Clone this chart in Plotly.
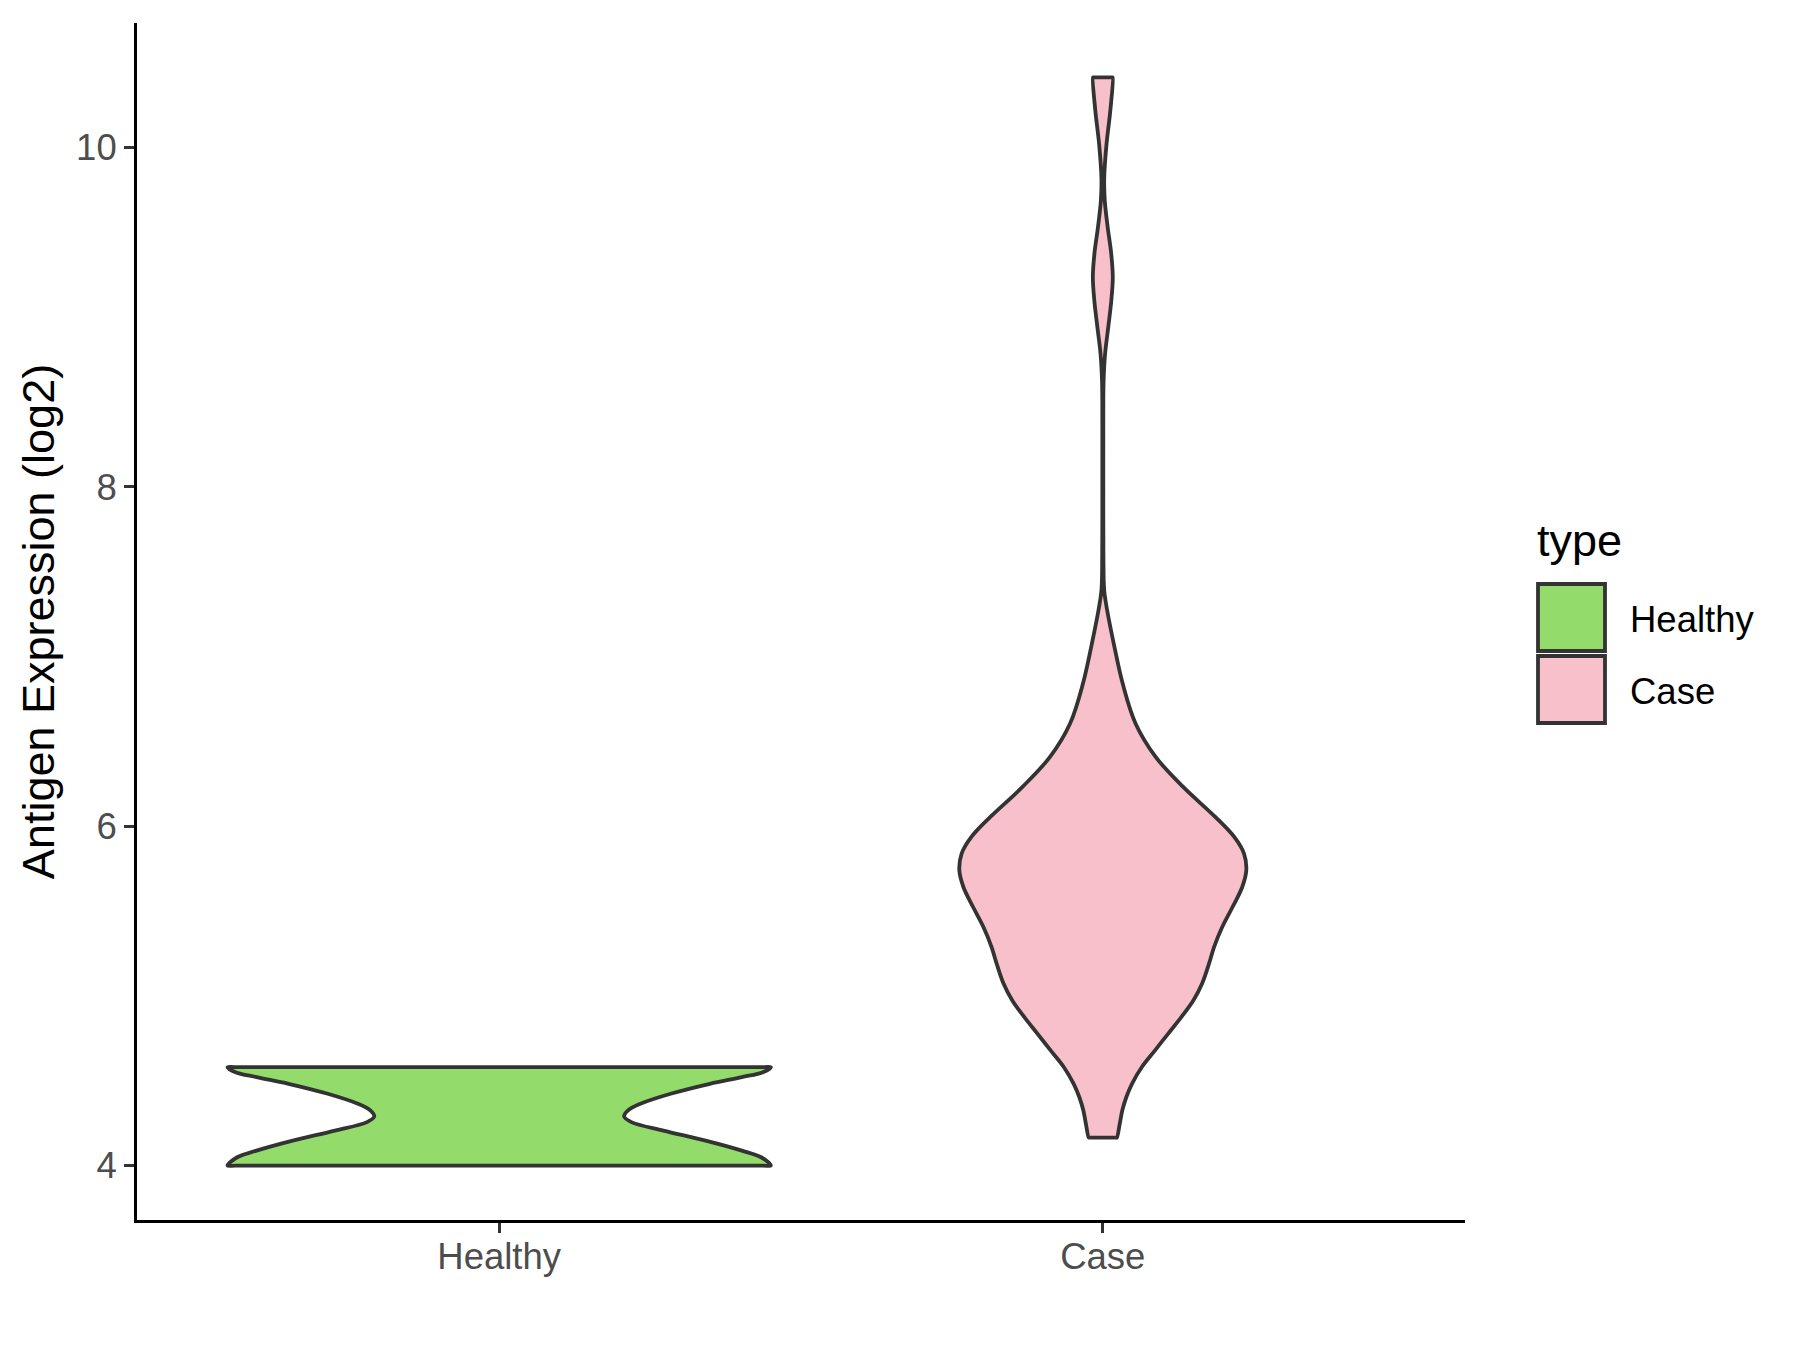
import plotly.graph_objects as go

# ---------------- data ----------------
categories = ["Healthy", "Case"]
category_positions = [1, 2]

# violin outline: y level (log2 expression) and half-width (category units)
healthy_y = [4.0, 4.049, 4.088, 4.147, 4.206, 4.256, 4.289, 4.324, 4.364,
             4.423, 4.482, 4.521, 4.5505, 4.58]
healthy_halfwidth = [0.45, 0.434, 0.402, 0.342, 0.272, 0.219, 0.207, 0.213,
                     0.234, 0.284, 0.349, 0.402, 0.437, 0.45]

case_y = [4.165, 4.247, 4.326, 4.404, 4.483, 4.581, 4.679, 4.778, 4.876,
          4.974, 5.073, 5.19, 5.289, 5.406, 5.524, 5.642, 5.741, 5.839,
          5.937, 6.055, 6.232, 6.409, 6.606, 6.841, 7.077, 7.273, 7.39,
          7.6, 8.0, 8.354, 8.624, 8.786, 8.944, 9.10, 9.238, 9.376, 9.533,
          9.69, 9.82, 10.02, 10.218, 10.414]
case_halfwidth = [0.0234, 0.0281, 0.0323, 0.0390, 0.0485, 0.0647, 0.0865,
                  0.1084, 0.1303, 0.1502, 0.1645, 0.1759, 0.1844, 0.1978,
                  0.2149, 0.2310, 0.2377, 0.2339, 0.2177, 0.1863, 0.1331,
                  0.0875, 0.0542, 0.0329, 0.0181, 0.0072, 0.0023, 0.0010,
                  0.0008, 0.0008, 0.0013, 0.0038, 0.0091, 0.0141, 0.0165,
                  0.0139, 0.0080, 0.0032, 0.0023, 0.0061, 0.0124, 0.0165]

y_tick_values = [4, 6, 8, 10]
y_tick_labels = ["4", "6", "8", "10"]
y_title = "Antigen Expression (log2)"
legend_title = "type"

# ---------------- styling ----------------
FILLS = {"Healthy": "#93DB6A", "Case": "#F7C0CB"}
OUTLINE = "#333333"
FONT = "Liberation Sans, Arial, sans-serif"
W, H = 1800, 1350
OFF = 8  # page body margin of the html page
ML, MT = 137 - OFF, 23 - OFF
PW, PH = 1328, 1197
MR, MB = W - ML - PW, H - MT - PH

profiles = {
    "Healthy": (healthy_y, healthy_halfwidth),
    "Case": (case_y, case_halfwidth),
}

EDGE_FRACS = [0.97, 0.5, 0.0, -0.5, -0.97]

fig = go.Figure()
for cat, pos in zip(categories, category_positions):
    ys, hws = profiles[cat]
    # right side going up
    xs = [pos + w for w in hws]
    yy = list(ys)
    # flat top edge (trimmed violin)
    xs += [pos + f * hws[-1] for f in EDGE_FRACS]
    yy += [ys[-1]] * len(EDGE_FRACS)
    # left side going down
    xs += [pos - w for w in reversed(hws)]
    yy += list(reversed(ys))
    # flat bottom edge
    xs += [pos - f * hws[0] for f in EDGE_FRACS]
    yy += [ys[0]] * len(EDGE_FRACS)
    xs.append(xs[0])
    yy.append(yy[0])
    fig.add_trace(go.Scatter(
        x=xs, y=yy, mode="lines", fill="toself",
        fillcolor=FILLS[cat],
        line=dict(color=OUTLINE, width=3.8, shape="spline", smoothing=1.0),
        name=cat, showlegend=False, hoverinfo="skip",
    ))

# ---------------- manual legend (ggplot-like big keys) ----------------


def px_x(x):
    return (x - OFF - ML) / PW


def px_y(y):
    return 1 - (y - OFF - MT) / PH


shapes = []
annotations = []
annotations.append(dict(
    x=px_x(1535), y=px_y(540), xref="paper", yref="paper",
    text=legend_title, showarrow=False, xanchor="left", yanchor="middle",
    font=dict(family=FONT, size=45, color="#000000"),
))
key_tops = [584, 656]
for cat, top in zip(categories, key_tops):
    shapes.append(dict(
        type="rect", xref="paper", yref="paper",
        x0=px_x(1538), x1=px_x(1605), y0=px_y(top), y1=px_y(top + 67),
        fillcolor=FILLS[cat], line=dict(color=OUTLINE, width=3.8),
    ))
    annotations.append(dict(
        x=px_x(1628), y=px_y(top + 35), xref="paper", yref="paper",
        text=cat, showarrow=False, xanchor="left", yanchor="middle",
        font=dict(family=FONT, size=36.5, color="#000000"),
    ))

fig.update_layout(
    width=W, height=H,
    margin=dict(l=ML, r=MR, t=MT, b=MB, pad=0),
    paper_bgcolor="white", plot_bgcolor="white",
    font=dict(family=FONT),
    shapes=shapes, annotations=annotations,
    showlegend=False,
)
fig.update_xaxes(
    range=[0.4, 2.6], tickvals=category_positions, ticktext=categories,
    showgrid=False, zeroline=False,
    showline=True, linecolor="#000000", linewidth=3,
    ticks="outside", ticklen=10, tickwidth=3, tickcolor="#333333",
    ticklabelstandoff=-8,
    tickfont=dict(family=FONT, size=36.5, color="#4D4D4D"),
)
fig.update_yaxes(
    range=[3.679, 10.735], tickvals=y_tick_values, ticktext=y_tick_labels,
    showgrid=False, zeroline=False,
    showline=True, linecolor="#000000", linewidth=3,
    ticks="outside", ticklen=10, tickwidth=3, tickcolor="#333333",
    tickfont=dict(family=FONT, size=36.5, color="#4D4D4D"),
    title=dict(text=y_title, font=dict(family=FONT, size=45, color="#000000"),
               standoff=8),
)

fig.write_html("out.html")
